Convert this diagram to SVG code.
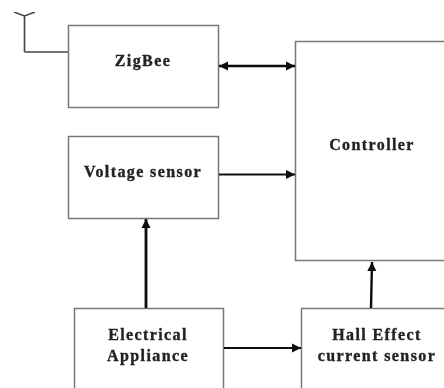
<svg xmlns="http://www.w3.org/2000/svg" width="444" height="388" viewBox="0 0 444 388">
<style>
.box{fill:#fff;stroke:#777;stroke-width:1.5}
.t{font-family:"Liberation Serif",serif;font-weight:bold;font-size:16px;fill:#222;stroke:#222;stroke-width:.35;text-anchor:middle;letter-spacing:1.400px}
.c{fill:none;stroke:#111}
.a{fill:none;stroke:#444;stroke-width:1.6}
</style>
<defs>
<marker id="h" markerUnits="userSpaceOnUse" markerWidth="11" markerHeight="10" refX="9" refY="5" orient="auto-start-reverse"><path d="M0 0.500L9 5L0 9.500Z" fill="#111"/></marker>
<filter id="soft" x="0" y="0" width="100%" height="100%"><feGaussianBlur stdDeviation="0.45"/></filter>
</defs>
<rect width="444" height="388" fill="#fff"/>
<g filter="url(#soft)">
<g id="antenna">
<path class="a" d="M24.500 52V16M14 12L24.500 16L35 12M24.500 52H68"/>
</g>
<g id="zigbee"><rect class="box" x="68.500" y="25.500" width="150" height="82"/><text class="t" x="143" y="65.500">ZigBee</text></g>
<g id="voltage"><rect class="box" x="68.500" y="136.500" width="150" height="82"/><text class="t" x="143" y="177">Voltage sensor</text></g>
<g id="controller"><rect class="box" x="295.500" y="41.500" width="160" height="219"/><text class="t" x="372" y="150">Controller</text></g>
<g id="appliance"><rect class="box" x="74.500" y="308.500" width="149" height="90"/><text class="t" x="148" y="340">Electrical</text><text class="t" x="148" y="361">Appliance</text></g>
<g id="hall"><rect class="box" x="301.500" y="308.500" width="150" height="90"/><text class="t" x="377" y="340">Hall Effect</text><text class="t" x="377" y="361">current sensor</text></g>
<g id="connectors">
<path class="c" stroke-width="2.500" d="M219 66H295" marker-start="url(#h)" marker-end="url(#h)"/>
<path class="c" stroke-width="1.800" d="M219 174.500H295" marker-end="url(#h)"/>
<path class="c" stroke-width="2.800" d="M146 308V219" marker-end="url(#h)"/>
<path class="c" stroke-width="1.800" d="M224 348H301" marker-end="url(#h)"/>
<path class="c" stroke-width="2.400" d="M371 308L372 262" marker-end="url(#h)"/>
</g>
</g>
</svg>
